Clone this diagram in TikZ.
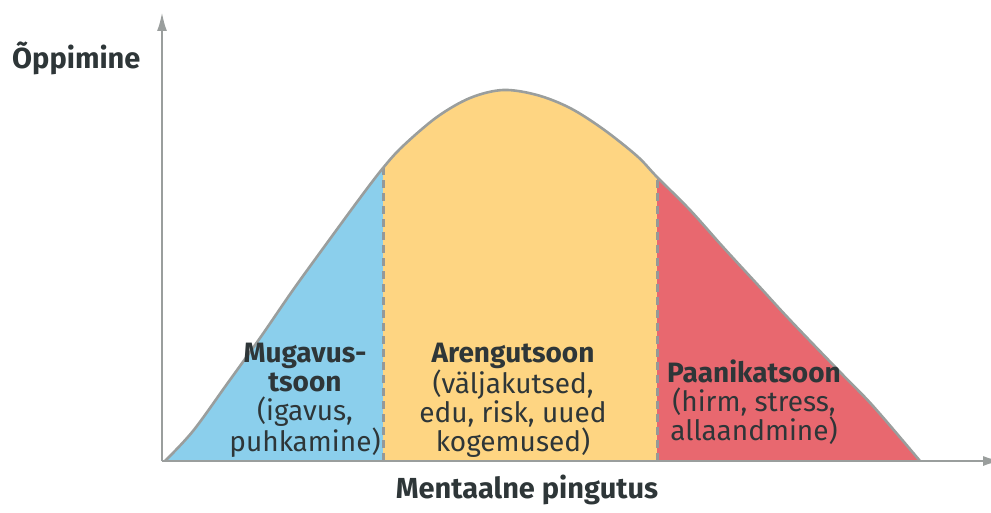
\documentclass[tikz,border=0pt]{standalone}
\usepackage{fontspec}
\setmainfont{Fira Sans}
\usetikzlibrary{arrows.meta}

\definecolor{comfortblue}{HTML}{8BCFEC}
\definecolor{growthyellow}{HTML}{FED582}
\definecolor{panicred}{HTML}{E8686F}
\definecolor{axisgray}{HTML}{9A9E9D}
\definecolor{dashgray}{HTML}{959998}
\definecolor{textdark}{HTML}{2E3638}

\tikzset{
  zonetext/.style={align=center,inner sep=0pt,text=textdark,font=\fontsize{28}{29}\selectfont},
  axislabel/.style={inner sep=0pt,text=textdark,font=\fontsize{29}{34}\selectfont\bfseries},
  axisline/.style={draw=axisgray,line width=2.5pt,-{Latex[length=19pt,width=10pt]}},
  zoneborder/.style={draw=dashgray,line width=3pt,dash pattern=on 8pt off 5pt},
  hillline/.style={draw=axisgray,line width=2.6pt,line join=round}
}

\begin{document}
\begin{tikzpicture}[x=1pt,y=-1pt]
\useasboundingbox (0,0) rectangle (991,513);

% Axes end points
\coordinate (origin) at (162,461);
\coordinate (ytip) at (162,12);
\coordinate (xtip) at (1002,461);

% Zone borders
\coordinate (b1low) at (383,461);
\coordinate (b1high) at (383,168);
\coordinate (b2low) at (657,461);
\coordinate (b2high) at (657,177);

% Filled zones under the hill
\begin{scope}
\clip plot[smooth,tension=0.55] coordinates {(165,461) (193,431) (227,384) (260,338) (293,290) (327,243) (360,198) (383,168) (403,146) (437,117) (470,98) (503,90) (537,95) (570,108) (603,129) (637,156) (657,177) (690,210) (723,247) (757,284) (790,320) (840,372) (873,406) (920,461)} -- cycle;
\fill[comfortblue] (160,60) rectangle (383,465);
\fill[growthyellow] (383,60) rectangle (657,465);
\fill[panicred] (657,60) rectangle (930,465);
\end{scope}

\draw[zoneborder] (b1low) -- (b1high);
\draw[zoneborder] (b2low) -- (b2high);

% Hill outline
\draw[hillline] plot[smooth,tension=0.55] coordinates {(165,461) (193,431) (227,384) (260,338) (293,290) (327,243) (360,198) (383,168) (403,146) (437,117) (470,98) (503,90) (537,95) (570,108) (603,129) (637,156) (657,177) (690,210) (723,247) (757,284) (790,320) (840,372) (873,406) (920,461)};

\draw[axisline] (origin) -- (ytip);
\draw[axisline] (origin) -- (xtip);

% Labels
\node[axislabel,anchor=base west] (ylabel) at (12,69) {Õppimine};
\node[axislabel,anchor=base] (xlabel) at (527,498) {Mentaalne pingutus};

\node[zonetext] (comfort) at (305,400) {\textbf{Mugavus-}\\\textbf{tsoon}\\(igavus,\\puhkamine)};
\node[zonetext] (growth) at (513,400) {\textbf{Arengutsoon}\\(väljakutsed,\\edu, risk, uued\\kogemused)};
\node[zonetext] (panic) at (754,402) {\textbf{Paanikatsoon}\\(hirm, stress,\\allaandmine)};
\end{tikzpicture}
\end{document}
